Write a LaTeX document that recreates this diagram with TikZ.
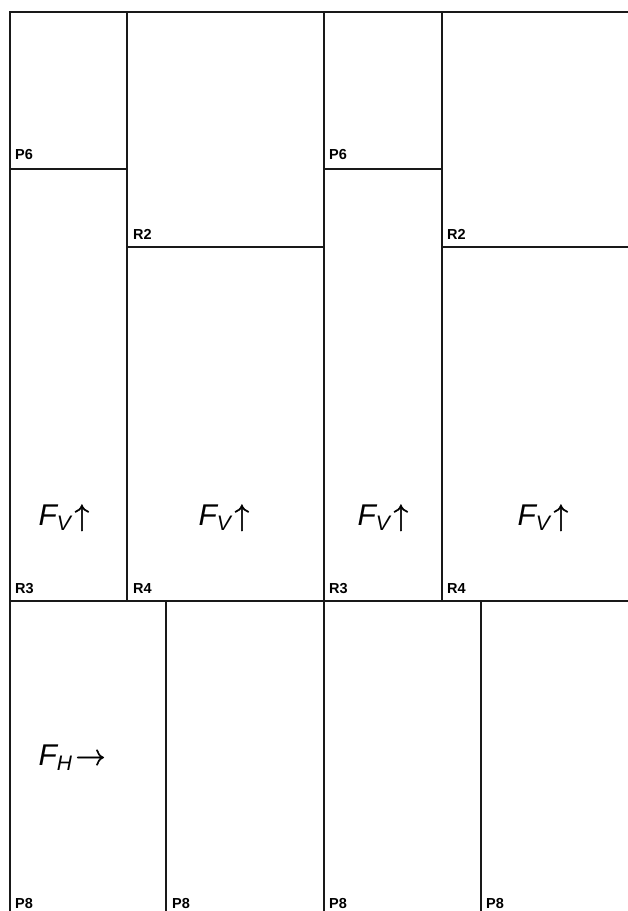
\documentclass[tikz,border=0pt]{standalone}
\usepackage{fontspec}
\setmainfont{Liberation Sans}
\newfontfamily\arrowfont[FakeBold=1.6]{latinmodern-math.otf}
\begin{document}
\begin{tikzpicture}[x=1pt,y=-1pt,
  wall/.style={line width=1.2pt,draw=black!90},
  tag/.style={anchor=base west,inner sep=0pt,font=\fontsize{14.5}{17}\selectfont\bfseries},
  force/.style={anchor=base,inner sep=0pt,font=\fontsize{30}{36}\selectfont}]
\useasboundingbox (0,0) rectangle (628,911);
% outer lines
\draw[wall] (628,12) -- (10,12) -- (10,911);
% upper verticals
\draw[wall] (127,12) -- (127,601);
\draw[wall] (324,12) -- (324,911);
\draw[wall] (442,12) -- (442,601);
% horizontals
\draw[wall] (10,169) -- (127,169);
\draw[wall] (324,169) -- (442,169);
\draw[wall] (127,247) -- (324,247);
\draw[wall] (442,247) -- (628,247);
\draw[wall] (10,601) -- (628,601);
% lower verticals
\draw[wall] (166,601) -- (166,911);
\draw[wall] (481,601) -- (481,911);
% labels
\node[tag] (p6a) at (15,159) {P6};
\node[tag] (p6b) at (329,159) {P6};
\node[tag] (r2a) at (133,239) {R2};
\node[tag] (r2b) at (447,239) {R2};
\node[tag] (r3a) at (15,593) {R3};
\node[tag] (r4a) at (133,593) {R4};
\node[tag] (r3b) at (329,593) {R3};
\node[tag] (r4b) at (447,593) {R4};
\node[tag] (p8a) at (15,908) {P8};
\node[tag] (p8b) at (172,908) {P8};
\node[tag] (p8c) at (329,908) {P8};
\node[tag] (p8d) at (486,908) {P8};
% forces
\node[force] (fv1) at (64,525) {\itshape F\textsubscript{V}\upshape\kern3pt{\arrowfont ↑}};
\node[force] (fv2) at (224,525) {\itshape F\textsubscript{V}\upshape\kern3pt{\arrowfont ↑}};
\node[force] (fv3) at (383,525) {\itshape F\textsubscript{V}\upshape\kern3pt{\arrowfont ↑}};
\node[force] (fv4) at (543,525) {\itshape F\textsubscript{V}\upshape\kern3pt{\arrowfont ↑}};
\node[force] (fh) at (72,765) {\itshape F\textsubscript{H}\upshape\kern3pt{\arrowfont →}};
\end{tikzpicture}
\end{document}
